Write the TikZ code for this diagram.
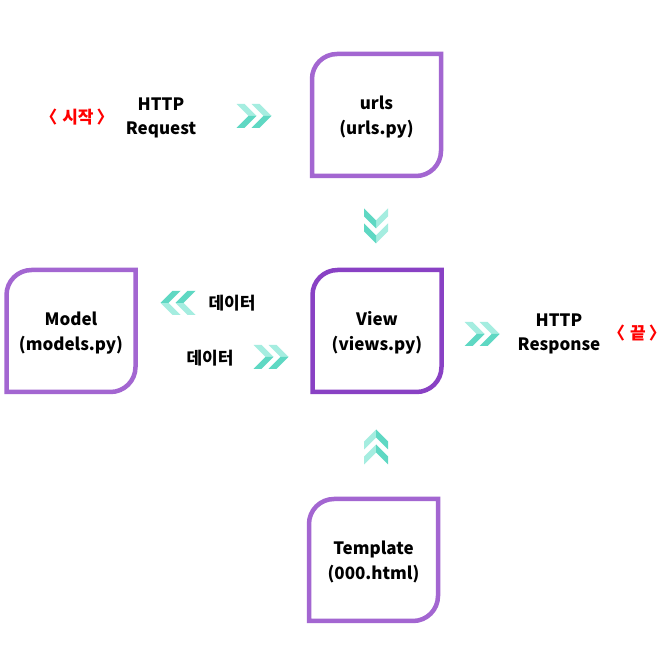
\documentclass[tikz,border=0pt]{standalone}
\usepackage{fontspec}
\setmainfont{Noto Sans CJK KR}
\begin{document}
\begin{tikzpicture}[x=1pt,y=1pt]
\definecolor{boxpurple}{RGB}{163,102,209}
\definecolor{viewpurple}{RGB}{137,65,196}
\definecolor{tealL}{RGB}{165,237,224}
\definecolor{tealD}{RGB}{95,216,195}
\definecolor{startred}{RGB}{255,0,0}
\useasboundingbox[fill=white] (0,0) rectangle (667,667);
\tikzset{
  lbl/.style={font=\fontsize{17}{24.5}\selectfont\bfseries, align=center, inner sep=0pt},
  redlbl/.style={lbl, text=startred},
  boxnode/.style={lbl, minimum width=129pt, minimum height=122pt, outer sep=0pt},
  boxtext/.style={lbl},
  dchev/.pic={
    \foreach \dx in {-7.5,7.5} {
      \fill[tealL] (\dx-10,12) -- (\dx-2,12) -- (\dx+10,0) -- (\dx+2,0) -- cycle;
      \fill[tealD] (\dx+2,0) -- (\dx+10,0) -- (\dx-2,-12) -- (\dx-10,-12) -- cycle;
    }
  }
}
\newcommand{\roundbox}[2]{%
  \draw[line width=4.5pt, #2]
    (#1.south west) -- ([yshift=-25pt]#1.north west)
    arc[start angle=180, end angle=90, radius=25pt]
    -- (#1.north east) -- ([yshift=25pt]#1.south east)
    arc[start angle=0, end angle=-90, radius=25pt]
    -- cycle;}
\node[boxnode] (urls) at (376.5,552) {};
\node[boxnode] (model) at (71,336) {};
\node[boxnode] (view) at (377,336) {};
\node[boxnode] (tmpl) at (373.5,107) {};
\node[boxtext] (urlst) at ([yshift=-2pt]urls.center) {urls\\(urls.py)};
\node[boxtext] (modelt) at ([yshift=-2pt]model.center) {Model\\(models.py)};
\node[boxtext] (viewt) at ([yshift=-2pt]view.center) {View\\(views.py)};
\node[boxtext] (tmplt) at ([yshift=-2pt]tmpl.center) {Template\\(000.html)};
\roundbox{urls}{boxpurple}
\roundbox{model}{boxpurple}
\roundbox{view}{viewpurple}
\roundbox{tmpl}{boxpurple}
\node[redlbl] (start) at (77,550) {〈\hspace{5pt}시작\hspace{3pt}〉};
\node[lbl] (req) at (161,549) {HTTP\\Request};
\node[lbl] (data1) at (232,364) {데이터};
\node[lbl] (data2) at (210,309) {데이터};
\node[lbl] (resp) at (559,333) {HTTP\\Response};
\node[redlbl] (end) at (637,334) {〈\hspace{5pt}끝\hspace{3pt}〉};
\pic at (254,551) {dchev};
\pic[rotate=-90] at (376,441) {dchev};
\pic[rotate=180] at (178,364) {dchev};
\pic at (271,310) {dchev};
\pic at (482,333) {dchev};
\pic[rotate=90] at (376,220) {dchev};
\end{tikzpicture}
\end{document}
